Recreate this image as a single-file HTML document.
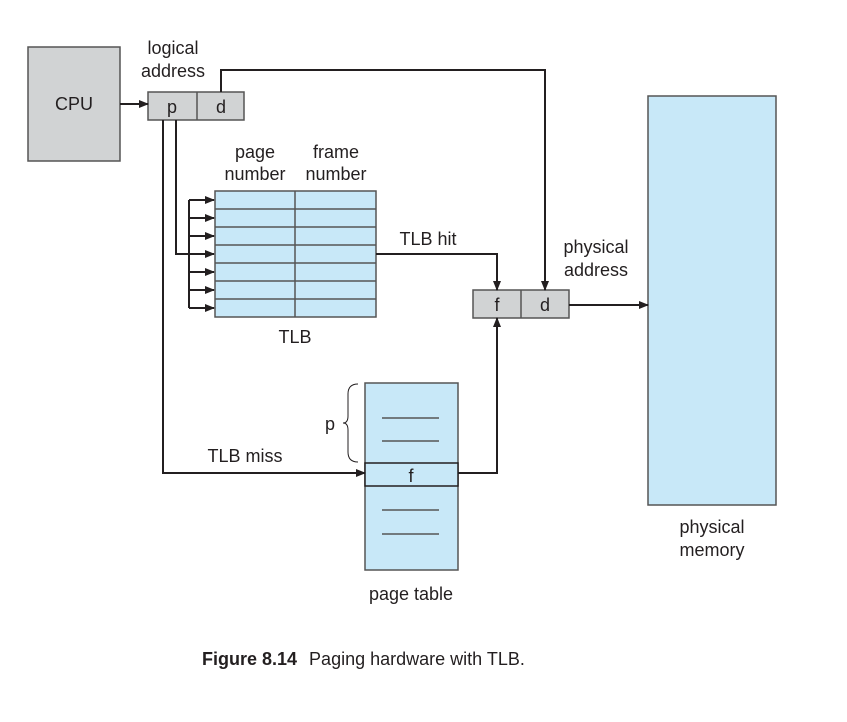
<!DOCTYPE html>
<html><head><style>body{margin:0;background:#fff}</style></head><body>
<svg width="847" height="717" viewBox="0 0 847 717" xmlns="http://www.w3.org/2000/svg" font-family="Liberation Sans, sans-serif" fill="#231f20">
<defs><marker id="a" markerWidth="10" markerHeight="8" refX="9" refY="4" orient="auto" markerUnits="userSpaceOnUse"><path d="M0,0 L10,4 L0,8 Z" fill="#231f20"/></marker></defs>
<g stroke="#555" stroke-width="1.5">
<rect x="28" y="47" width="92" height="114" fill="#d1d3d4"/>
<rect x="148" y="92" width="96" height="28" fill="#d1d3d4"/><line x1="197" y1="92" x2="197" y2="120"/>
<rect x="473" y="290" width="96" height="28" fill="#d1d3d4"/><line x1="521" y1="290" x2="521" y2="318"/>
<rect x="648" y="96" width="128" height="409" fill="#c8e8f8"/>
<rect x="215" y="191" width="161" height="126" fill="#c8e8f8"/>
<line x1="295" y1="191" x2="295" y2="317"/>
<line x1="215" y1="209" x2="376" y2="209"/><line x1="215" y1="227" x2="376" y2="227"/><line x1="215" y1="245" x2="376" y2="245"/><line x1="215" y1="263" x2="376" y2="263"/><line x1="215" y1="281" x2="376" y2="281"/><line x1="215" y1="299" x2="376" y2="299"/>
<rect x="365" y="383" width="93" height="187" fill="#c8e8f8"/>
<rect x="365" y="463" width="93" height="23" fill="#c8e8f8" stroke="#231f20"/>
<line x1="382" y1="418" x2="439" y2="418"/><line x1="382" y1="441" x2="439" y2="441"/><line x1="382" y1="510" x2="439" y2="510"/><line x1="382" y1="534" x2="439" y2="534"/>
</g>
<g stroke="#231f20" stroke-width="2" fill="none">
<line x1="120" y1="104" x2="148" y2="104" marker-end="url(#a)"/>
<polyline points="221,92 221,70 545,70 545,290" marker-end="url(#a)"/>
<polyline points="176,120 176,254 214,254" marker-end="url(#a)"/>
<line x1="189" y1="200" x2="189" y2="308"/>
<line x1="189" y1="200" x2="214" y2="200" marker-end="url(#a)"/>
<line x1="189" y1="218" x2="214" y2="218" marker-end="url(#a)"/>
<line x1="189" y1="236" x2="214" y2="236" marker-end="url(#a)"/>
<line x1="189" y1="272" x2="214" y2="272" marker-end="url(#a)"/>
<line x1="189" y1="290" x2="214" y2="290" marker-end="url(#a)"/>
<line x1="189" y1="308" x2="214" y2="308" marker-end="url(#a)"/>
<polyline points="376,254 497,254 497,290" marker-end="url(#a)"/>
<polyline points="163,120 163,473 365,473" marker-end="url(#a)"/>
<polyline points="458,473 497,473 497,318" marker-end="url(#a)"/>
<line x1="569" y1="305" x2="648" y2="305" marker-end="url(#a)"/>
<path d="M358,384 Q348,384 348,394 L348,416 Q348,423 343,423 Q348,423 348,430 L348,452 Q348,462 358,462" stroke-width="1"/>
</g>
<g font-size="18" text-anchor="middle">
<text x="74" y="110">CPU</text>
<text x="172" y="113">p</text><text x="221" y="113">d</text>
<text x="497" y="311">f</text><text x="545" y="311">d</text>
<text x="173" y="54">logical</text><text x="173" y="77">address</text>
<text x="255" y="158">page</text><text x="255" y="180">number</text>
<text x="336" y="158">frame</text><text x="336" y="180">number</text>
<text x="295" y="343">TLB</text>
<text x="428" y="245">TLB hit</text>
<text x="596" y="253">physical</text><text x="596" y="276">address</text>
<text x="245" y="462">TLB miss</text>
<text x="330" y="430">p</text>
<text x="411" y="482">f</text>
<text x="411" y="600">page table</text>
<text x="712" y="533">physical</text><text x="712" y="556">memory</text>
</g>
<text x="202" y="665" font-size="18"><tspan font-weight="bold">Figure 8.14</tspan><tspan dx="12">Paging hardware with TLB.</tspan></text>
</svg>
</body></html>
